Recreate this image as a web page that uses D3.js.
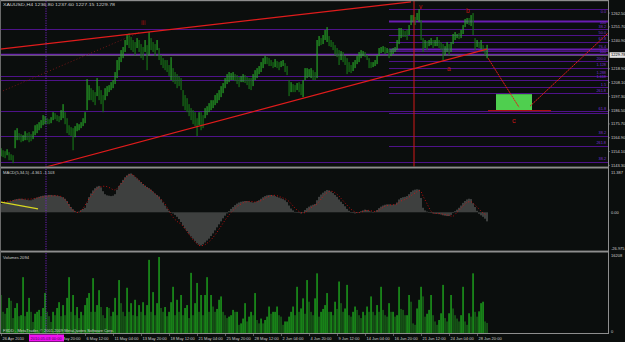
<!DOCTYPE html>
<html>
<head>
<meta charset="utf-8">
<script src="https://cdn.jsdelivr.net/npm/d3@7"></script>
<style>
  body { margin: 0; background: #0b0e0d; }
  svg { display: block; font-family: "Liberation Sans", Arial, sans-serif; }
</style>
</head>
<body>
<div id="chart"></div>
<script>
// H4 bars (one entry per bar)
var highs = [1156.7,1155.1,1154.4,1155.9,1153.6,1152.0,1151.2,1170.8,1172.4,1168.5,
 1167.7,1166.9,1170.0,1168.5,1169.3,1167.7,1170.0,1174.7,1175.5,1177.1,
 1178.7,1182.6,1181.8,1180.2,1179.4,1181.0,1184.9,1184.1,1182.6,1181.8,
 1186.5,1191.2,1184.9,1180.2,1174.7,1173.2,1172.4,1174.0,1176.3,1175.5,
 1177.1,1180.2,1184.9,1210.8,1206.1,1203.7,1202.2,1200.6,1211.6,1205.3,
 1202.2,1198.3,1203.7,1205.3,1206.1,1208.4,1210.0,1216.3,1225.7,1228.0,
 1233.5,1235.9,1241.4,1245.3,1246.8,1243.7,1241.4,1239.8,1242.9,1241.4,
 1238.2,1235.9,1241.4,1237.4,1247.6,1242.9,1239.8,1238.2,1241.4,1235.1,
 1229.6,1227.2,1225.7,1225.7,1221.8,1228.0,1219.4,1216.3,1214.7,1213.1,
 1211.6,1202.2,1198.3,1195.9,1191.2,1188.1,1186.5,1184.9,1180.2,1184.9,
 1184.9,1182.6,1188.1,1189.6,1192.0,1194.3,1194.3,1198.3,1199.8,1202.2,
 1205.3,1207.7,1211.6,1214.7,1216.3,1215.5,1216.3,1214.7,1213.9,1212.4,
 1213.1,1214.7,1213.9,1212.4,1211.6,1211.6,1214.7,1217.8,1219.4,1221.0,
 1224.1,1227.2,1228.8,1228.0,1227.2,1225.7,1224.1,1226.5,1224.9,1224.1,
 1224.9,1225.7,1223.3,1221.0,1210.0,1208.4,1206.9,1206.1,1207.7,1208.4,
 1206.9,1210.0,1219.4,1219.4,1218.6,1219.4,1217.8,1216.3,1241.4,1244.5,
 1242.9,1245.3,1249.2,1251.5,1244.5,1241.4,1239.8,1237.4,1235.1,1233.5,
 1232.7,1232.0,1228.8,1227.2,1224.1,1221.8,1224.1,1225.7,1228.8,1232.0,
 1233.5,1232.7,1232.0,1229.6,1227.2,1224.1,1224.1,1225.7,1229.6,1235.1,
 1235.9,1236.6,1235.9,1235.1,1234.3,1234.3,1235.1,1235.9,1241.4,1250.8,
 1250.8,1249.2,1248.4,1249.2,1253.1,1260.9,1260.9,1259.4,1262.5,1265.6,
 1257.0,1242.9,1241.4,1240.6,1241.4,1242.9,1241.4,1241.4,1243.7,1241.4,
 1239.8,1238.2,1236.6,1239.8,1238.2,1239.8,1246.1,1247.6,1246.1,1246.8,
 1249.2,1253.1,1257.8,1258.6,1258.6,1260.9,1262.5,1242.9,1241.4,1239.8,
 1241.4,1237.4,1235.1,1237.6];

var lows = [1150.4,1149.7,1148.9,1151.2,1147.3,1147.3,1145.0,1156.7,1163.0,1163.0,
 1161.4,1162.2,1163.0,1163.0,1161.4,1162.2,1163.8,1166.9,1168.5,1170.8,
 1172.4,1174.7,1175.5,1175.5,1175.5,1176.3,1178.7,1179.4,1177.9,1177.1,
 1178.7,1180.2,1175.5,1168.5,1166.9,1166.1,1155.1,1165.3,1170.0,1170.8,
 1172.4,1174.0,1176.3,1186.5,1194.3,1194.3,1192.8,1190.4,1197.5,1194.3,
 1191.2,1184.9,1194.3,1197.5,1200.6,1202.2,1203.7,1206.9,1211.6,1217.8,
 1224.1,1227.2,1232.0,1237.4,1235.1,1233.5,1232.0,1229.6,1235.1,1232.0,
 1227.2,1225.7,1232.0,1217.8,1229.6,1233.5,1232.0,1228.8,1233.5,1225.7,
 1221.8,1219.4,1217.8,1216.3,1213.1,1210.0,1208.4,1206.9,1203.7,1205.3,
 1202.2,1189.6,1186.5,1184.9,1181.8,1178.7,1175.5,1174.0,1166.1,1174.7,
 1170.8,1172.4,1180.2,1182.6,1184.9,1186.5,1188.1,1190.4,1192.0,1194.3,
 1196.7,1199.8,1203.7,1206.9,1208.4,1210.0,1210.0,1209.2,1206.9,1204.5,
 1208.4,1208.4,1207.7,1206.1,1203.0,1202.2,1205.3,1210.0,1211.6,1214.7,
 1216.3,1219.4,1222.5,1222.5,1221.0,1221.0,1219.4,1220.2,1219.4,1217.8,
 1220.2,1221.0,1216.3,1213.9,1197.5,1200.6,1200.6,1200.6,1202.2,1200.6,
 1198.3,1196.7,1210.0,1211.6,1212.4,1211.6,1210.0,1210.0,1211.6,1236.6,
 1237.4,1238.2,1241.4,1239.8,1236.6,1235.9,1233.5,1229.6,1228.0,1221.8,
 1225.7,1224.1,1221.8,1214.7,1216.3,1215.5,1217.1,1219.4,1222.5,1224.1,
 1227.2,1228.8,1228.0,1225.7,1219.4,1219.4,1220.2,1221.0,1222.5,1228.8,
 1231.2,1232.0,1230.4,1231.2,1227.2,1228.8,1230.4,1232.0,1233.5,1238.2,
 1242.9,1243.7,1243.7,1241.4,1245.3,1253.1,1255.5,1253.1,1257.0,1255.5,
 1241.4,1232.0,1235.1,1233.5,1236.6,1237.4,1235.1,1236.6,1236.6,1235.1,
 1233.5,1225.7,1229.6,1232.0,1229.6,1232.0,1238.2,1241.4,1242.9,1242.1,
 1242.9,1246.1,1251.5,1253.9,1253.1,1252.3,1245.3,1233.5,1235.9,1235.1,
 1234.3,1232.0,1229.6,1227.15];

var volumes = [7900,4400,4000,5200,7300,6700,3100,5200,6200,3500,
 3700,11600,3500,4400,7300,4400,2300,4000,4400,4800,
 3500,5200,8300,4400,3500,2300,4400,3700,5200,6400,
 3500,5800,3700,7300,11600,4400,7900,3700,5400,3100,
 4400,3700,5800,7300,8300,4400,11400,4400,5800,8900,
 5400,3700,3100,5400,5200,3500,4400,7300,3700,11000,
 6200,4400,3500,9400,4400,6200,3700,6900,3500,5800,
 4400,6400,3700,5800,15200,4400,8500,3700,6200,15800,
 5200,4400,5400,3500,4400,6400,9600,3700,6900,4400,
 7900,3700,5200,5800,3100,12500,3700,6200,10400,4400,
 7900,3700,7900,11600,4400,7900,5500,4400,5000,6900,
 7600,4400,3700,3100,3400,3700,4800,4400,4400,1700,
 2000,3000,6200,2400,3400,4400,3700,8300,2700,2000,
 3000,2000,2700,3400,5500,4000,4400,4400,5500,3700,
 3400,1700,2400,2400,3400,4400,5500,3700,9600,4400,
 5100,7200,4000,11000,6500,4400,3700,7200,12400,3400,
 4400,5000,5800,8300,4400,4400,3700,6500,5000,10700,
 6200,4400,5100,10000,3700,3400,4400,5500,4800,3700,
 3100,4400,3700,5500,4400,7600,4400,3700,5800,4400,
 9600,4800,3700,3400,6200,4400,4400,3400,3700,9600,
 5000,4800,3700,3700,7900,6500,2000,1700,5100,6900,
 9600,7600,3400,4000,4800,7900,3700,2400,1700,2700,
 4100,10000,3100,2400,4100,7900,5100,3700,3000,2400,
 3700,9600,2400,1700,4100,3400,12400,4400,3400,4500,
 6200,6500,2400,2094];

var macdMain = [2.2,2.4,2.5,2.7,2.9,3.0,3.2,3.4,3.5,3.6,
 3.6,3.5,3.4,3.3,3.2,3.2,3.4,3.7,3.9,4.1,
 4.3,4.4,4.5,4.5,4.6,4.6,4.5,4.5,4.4,4.3,
 4.1,4.0,3.6,3.0,2.2,1.4,0.8,0.3,0.1,0.2,
 0.6,0.9,1.2,2.5,4.0,5.0,5.8,6.4,6.8,7.0,
 6.6,5.6,4.8,4.5,4.4,4.3,4.4,4.8,6.0,7.0,
 7.8,8.6,9.3,9.8,10.2,10.3,9.9,9.4,9.0,8.5,
 8.0,7.5,7.1,6.7,6.4,6.0,5.5,5.0,4.6,4.2,
 3.4,2.6,1.8,1.0,0.4,0.0,-0.3,-0.7,-1.2,-1.8,
 -2.6,-3.5,-4.3,-5.0,-5.7,-6.4,-7.0,-7.6,-8.2,-8.6,
 -8.8,-8.5,-8.0,-7.5,-7.0,-6.3,-5.6,-4.8,-4.0,-3.2,
 -2.4,-1.6,-0.9,-0.3,0.3,0.9,1.4,1.9,2.3,2.6,
 2.8,2.9,3.0,3.0,2.9,2.7,2.6,2.7,2.9,3.2,
 3.6,4.0,4.3,4.5,4.6,4.6,4.5,4.3,4.1,3.9,
 3.7,3.5,3.2,2.7,1.8,1.0,0.5,0.1,-0.1,-0.2,
 -0.3,0.0,0.6,1.1,1.5,1.8,2.0,2.2,3.2,4.1,
 4.7,5.2,5.6,5.9,5.8,5.5,5.1,4.6,4.1,3.4,
 2.8,2.2,1.6,0.9,0.4,0.0,-0.2,-0.3,-0.2,0.0,
 0.3,0.5,0.7,0.6,0.4,0.2,0.1,0.2,0.6,1.1,
 1.5,1.8,2.0,2.1,2.1,2.0,2.0,2.1,2.6,3.4,
 3.8,4.0,4.1,4.3,4.8,5.4,5.8,6.0,6.1,6.0,
 3.8,1.2,0.5,0.2,0.0,-0.2,-0.3,-0.4,-0.4,-0.5,
 -0.6,-0.8,-0.9,-1.0,-1.0,-0.7,-0.2,0.3,0.7,1.2,
 1.8,2.5,3.0,3.4,3.6,3.5,2.4,1.4,0.4,-0.4,
 -0.8,-1.2,-1.7,-2.4];

var macdSignal = [2.6,2.7,2.8,2.9,3.0,3.0,3.1,3.2,3.3,3.4,
 3.5,3.5,3.5,3.5,3.5,3.5,3.6,3.7,3.8,3.9,
 4.0,4.1,4.1,4.2,4.3,4.3,4.4,4.4,4.4,4.3,
 4.2,3.9,3.4,2.8,1.8,0.9,0.5,0.2,0.0,-0.1,
 0.3,1.0,1.8,2.7,3.6,4.3,5.0,5.7,6.3,6.6,
 6.8,6.9,6.9,6.8,6.6,6.3,6.0,5.9,6.3,6.9,
 7.4,8.1,8.9,9.6,9.9,10.0,9.9,9.5,9.0,8.5,
 8.0,7.5,7.0,6.5,6.1,5.8,5.4,4.9,4.4,3.9,
 3.5,2.9,2.2,1.3,0.4,-0.5,-1.3,-1.9,-2.4,-2.8,
 -3.1,-3.7,-4.4,-5.1,-5.8,-6.6,-7.3,-7.9,-8.4,-8.8,
 -8.9,-8.8,-8.6,-8.2,-7.8,-7.3,-6.7,-6.0,-5.3,-4.5,
 -3.7,-2.9,-2.1,-1.4,-0.7,-0.1,0.5,1.0,1.5,1.9,
 2.2,2.5,2.7,2.8,2.9,2.9,2.8,2.7,2.8,2.9,
 3.1,3.4,3.7,4.0,4.2,4.4,4.5,4.5,4.4,4.2,
 4.0,3.8,3.6,3.3,2.9,2.3,1.7,1.1,0.6,0.2,
 -0.1,-0.2,-0.1,0.3,0.8,1.2,1.6,1.9,2.2,2.8,
 3.5,4.2,4.8,5.2,5.5,5.6,5.5,5.2,4.8,4.3,
 3.7,3.1,2.5,1.9,1.3,0.8,0.4,0.1,-0.1,-0.1,
 0.0,0.2,0.4,0.5,0.5,0.4,0.3,0.2,0.3,0.5,
 0.9,1.3,1.6,1.8,1.9,2.0,2.0,2.0,2.2,2.6,
 3.0,3.2,3.4,3.7,4.0,4.4,4.8,5.1,5.5,5.8,
 5.6,4.3,3.3,2.3,1.2,0.3,-0.2,-0.3,-0.3,-0.3,
 -0.4,-0.5,-0.6,-0.7,-0.8,-1.0,-1.1,-0.6,0.0,0.5,
 1.1,1.6,2.2,2.7,2.8,2.8,2.5,1.9,1.4,0.9,
 0.3,-0.2,-0.5,-0.8];

// time axis (the 29 Apr tick label sits under the crosshair date box)
var timeLabels = ["26 Apr 2010","","3 May 20:00","6 May 12:00","11 May 04:00",
  "13 May 20:00","18 May 12:00","21 May 04:00","25 May 20:00","28 May 12:00","2 Jun 04:00",
  "4 Jun 20:00","9 Jun 12:00","14 Jun 04:00","16 Jun 20:00","21 Jun 12:00","24 Jun 04:00","28 Jun 20:00"];
var timeTickBars = [0,14,28,42,56,70,84,98,112,126,140,154,168,182,196,210,224,238];
var crosshairBar = 22.5;
var crosshairLabel = "2010.05.03 00:00";

// price axis
var priceTicks = [1262.50,1251.70,1240.90,1218.90,1208.10,1197.30,1186.50,1175.70,1164.90,1154.10,1143.30];
var bidPrice = 1229.78;

// fibonacci levels (full width / right part only)
var fibFull = [1250.0,1230.1,1213.1,1209.8,1185.7,1166.1,1146.3];
var fibRight = [1265.4,1256.5,1245.3,1240.0,1234.1,1232.7,1224.9,1219.2,1204.7,1199.6,1184.1,1158.3];
var fibRightStart = 194;
var fibTexts = ["0.0","100","38.2","50.0","61.8","76.4","100","200.0","1.128","1.288","1.618","1.5","261.8","61.8","38.2","261.8","38.2"];
var fibTextPrices = [1262.9,1253.6,1250.6,1246.3,1241.4,1235.5,1231.6,1226.1,1221.0,1215.1,1211.6,1205.3,1200.6,1186.9,1167.7,1159.8,1147.3];

// drawn objects: [bar, price] end points
var channelTop = [[-0.5,1234.3],[205,1271.2]];
var channelBottom = [[22,1141.8],[243,1234.3]];
var oldTrend = [[-0.5,1200.6],[69.5,1247.6]];
var projDown = [[243.5,1227.2],[259,1188.8]];
var projUp = [[264.5,1189.6],[303.5,1246.8]];
var targetLine = [[243.5,1186.1],[275,1186.1]];
var targetBox = [[247.5,1199.0],[265.5,1186.5]];
var waveBar = 206.5;
var waveLabels = ["iii","v","b","a","c"];
var waveLabelPos = [[70,1253.5],[209,1266.0],[232.5,1262.5],[223,1217.0],[255.5,1176.3]];
var macdTrend = [[0,2.7],[18.5,0.9]];

var title = "XAUUSD,H4  1236.80 1237.60 1227.15 1229.78";
var macdTitle = "MACD(5,34,5) -4.361 -1.103";
var volTitle = "Volumes 2094";
var macdAxisTexts = ["11.387","0.00","-26.975"];
var volAxisTexts = ["16208","0"];

var W = 625, H = 342, AX = 608;

var svg = d3.select("#chart").append("svg").attr("width", W).attr("height", H);
svg.append("rect").attr("width", W).attr("height", H).attr("fill", "#0b0e0d");

var x = d3.scaleLinear().domain([0, 243]).range([1, 487]);
var yPrice = d3.scaleLinear().domain([1142.0, 1272.7]).range([167, 0]);
var yMacd = d3.scaleLinear().domain([-9.5, 10.9]).range([248.1, 171.2]);
var yVol = d3.scaleLinear().domain([0, 16208]).range([333, 255]);

var defs = svg.append("defs");
function clip(id, x0, y0, w, h) {
  defs.append("clipPath").attr("id", id).append("rect")
    .attr("x", x0).attr("y", y0).attr("width", w).attr("height", h);
}
clip("cMain", 0, 1, AX, 165.5);
clip("cMacd", 0, 168.5, AX, 82);
clip("cVol", 0, 252.5, AX, 80.5);

var line = d3.line().x(function (d) { return x(d[0]); }).y(function (d) { return yPrice(d[1]); });

// ---- main window
var gMain = svg.append("g").attr("clip-path", "url(#cMain)");

gMain.selectAll(".fibF").data(fibFull).enter().append("line")
  .attr("x1", 0).attr("x2", AX)
  .attr("y1", function (d) { return Math.round(yPrice(d)) + 0.5; })
  .attr("y2", function (d) { return Math.round(yPrice(d)) + 0.5; })
  .attr("stroke", function (d, i) { return i == 1 ? "#6a1cb2" : "#4e1288"; })
  .attr("stroke-width", function (d, i) { return i == 1 ? 1.6 : 1; });

gMain.selectAll(".fibR").data(fibRight).enter().append("line")
  .attr("x1", x(fibRightStart)).attr("x2", AX)
  .attr("y1", function (d) { return Math.round(yPrice(d)) + 0.5; })
  .attr("y2", function (d) { return Math.round(yPrice(d)) + 0.5; })
  .attr("stroke", function (d, i) { return (i == 1 || i == 4) ? "#6a1cb2" : "#4e1288"; })
  .attr("stroke-width", function (d, i) { return (i == 1 || i == 4) ? 1.8 : 1; });

gMain.selectAll(".fibT").data(fibTexts).enter().append("text")
  .attr("x", AX - 2).attr("y", function (d, i) { return yPrice(fibTextPrices[i]); })
  .attr("text-anchor", "end").attr("font-size", 3.8).attr("fill", "#7b2fd6")
  .text(function (d) { return d; });

// bid line
gMain.append("line").attr("x1", 0).attr("x2", AX)
  .attr("y1", yPrice(bidPrice) + 0.5).attr("y2", yPrice(bidPrice) + 0.5)
  .attr("stroke", "#7c7c80").attr("stroke-width", 0.8);

// old dotted trend
gMain.append("path").attr("d", line(oldTrend)).attr("fill", "none")
  .attr("stroke", "#801818").attr("stroke-width", 0.9).attr("stroke-dasharray", "1,2.2");

// price bars
gMain.selectAll(".bar").data(highs).enter().append("rect")
  .attr("x", function (d, i) { return x(i) - 0.5; })
  .attr("width", 1.15)
  .attr("y", function (d) { return yPrice(d); })
  .attr("height", function (d, i) { return Math.max(1, yPrice(lows[i]) - yPrice(d)); })
  .attr("fill", function (d, i) {
    if (i == 0) return "#1f9a1f";
    return (d + lows[i]) >= (highs[i - 1] + lows[i - 1]) ? "#27a827" : "#177417";
  });

// channel and projections
gMain.append("path").attr("d", line(channelTop)).attr("fill", "none").attr("stroke", "#e01c1c").attr("stroke-width", 1.2);
gMain.append("path").attr("d", line(channelBottom)).attr("fill", "none").attr("stroke", "#e01c1c").attr("stroke-width", 1.2);

gMain.append("line").attr("x1", x(waveBar)).attr("x2", x(waveBar)).attr("y1", 0).attr("y2", 167)
  .attr("stroke", "#d01818").attr("stroke-width", 1);

gMain.append("rect")
  .attr("x", x(targetBox[0][0])).attr("y", yPrice(targetBox[0][1]))
  .attr("width", x(targetBox[1][0]) - x(targetBox[0][0]))
  .attr("height", yPrice(targetBox[1][1]) - yPrice(targetBox[0][1]))
  .attr("fill", "#4fcf4f");

gMain.append("path").attr("d", line(targetLine)).attr("fill", "none").attr("stroke", "#a81010").attr("stroke-width", 1.4);
gMain.append("path").attr("d", line(projDown)).attr("fill", "none").attr("stroke", "#e01c1c").attr("stroke-width", 1).attr("stroke-dasharray", "2,0.6");
gMain.append("path").attr("d", line(projUp)).attr("fill", "none").attr("stroke", "#e01c1c").attr("stroke-width", 1).attr("stroke-dasharray", "2,0.6");

gMain.selectAll(".wave").data(waveLabels).enter().append("text")
  .attr("x", function (d, i) { return x(waveLabelPos[i][0]); })
  .attr("y", function (d, i) { return yPrice(waveLabelPos[i][1]); })
  .attr("font-size", function (d) { return d == "c" ? 7.5 : 6.5; })
  .attr("fill", function (d) { return d == "iii" ? "#a01010" : "#c81414"; })
  .text(function (d) { return d; });

// ---- MACD window
var gMacd = svg.append("g").attr("clip-path", "url(#cMacd)");
gMacd.selectAll(".hist").data(macdMain).enter().append("rect")
  .attr("x", function (d, i) { return x(i) - 0.4; })
  .attr("width", 0.8)
  .attr("y", function (d) { return Math.min(yMacd(d), yMacd(0)); })
  .attr("height", function (d) { return Math.max(0.6, Math.abs(yMacd(d) - yMacd(0))); })
  .attr("fill", "#8c8c8c");

gMacd.append("path")
  .attr("d", d3.line().x(function (d, i) { return x(i); }).y(function (d) { return yMacd(d); })(macdSignal))
  .attr("fill", "none").attr("stroke", "#e01010").attr("stroke-width", 0.9).attr("stroke-dasharray", "0.9,2.1");

gMacd.append("path")
  .attr("d", d3.line().x(function (d) { return x(d[0]); }).y(function (d) { return yMacd(d[1]); })(macdTrend))
  .attr("fill", "none").attr("stroke", "#d8d820").attr("stroke-width", 1.1);

// ---- volume window
var gVol = svg.append("g").attr("clip-path", "url(#cVol)");
gVol.selectAll(".vol").data(volumes).enter().append("rect")
  .attr("x", function (d, i) { return x(i) - 0.6; })
  .attr("width", 1.3)
  .attr("y", function (d) { return yVol(d); })
  .attr("height", function (d) { return yVol(0) - yVol(d); })
  .attr("fill", function (d, i) { return (i > 0 && d >= volumes[i - 1]) ? "#1fb41f" : "#1a6e1a"; });

// crosshair
svg.append("line").attr("x1", x(crosshairBar)).attr("x2", x(crosshairBar)).attr("y1", 1).attr("y2", 334)
  .attr("stroke", "#7a22d0").attr("stroke-width", 0.9).attr("stroke-dasharray", "1.2,1.2");

// ---- frames / separators
var grey = "#8e8e8e";
svg.append("rect").attr("x", 0).attr("y", 0).attr("width", AX).attr("height", 1.2).attr("fill", grey);
svg.append("rect").attr("x", 0).attr("y", 166.6).attr("width", AX).attr("height", 1.9).attr("fill", grey);
svg.append("rect").attr("x", 0).attr("y", 250.6).attr("width", AX).attr("height", 1.9).attr("fill", grey);
svg.append("rect").attr("x", 0).attr("y", 0).attr("width", 1).attr("height", 334).attr("fill", "#6a6a6a");
svg.append("line").attr("x1", 0).attr("x2", AX + 0.5).attr("y1", 333.5).attr("y2", 333.5).attr("stroke", grey).attr("stroke-width", 1);
svg.append("line").attr("x1", AX + 0.5).attr("x2", AX + 0.5).attr("y1", 0).attr("y2", 334).attr("stroke", grey).attr("stroke-width", 1);

var txt = "#cfcfcf";
// price axis
svg.selectAll(".pt").data(priceTicks).enter().append("text")
  .attr("x", AX + 3).attr("y", function (d) { return yPrice(d) + 1.5; })
  .attr("font-size", 4).attr("fill", txt)
  .text(function (d) { return d.toFixed(2); });
svg.selectAll(".ptk").data(priceTicks).enter().append("line")
  .attr("x1", AX).attr("x2", AX + 2)
  .attr("y1", function (d) { return yPrice(d); }).attr("y2", function (d) { return yPrice(d); })
  .attr("stroke", grey).attr("stroke-width", 0.6);
svg.append("rect").attr("x", AX + 1.5).attr("y", yPrice(bidPrice) - 2.6).attr("width", 16).attr("height", 5.6).attr("fill", "#e4e4e4");
svg.append("text").attr("x", AX + 3).attr("y", yPrice(bidPrice) + 1.5).attr("font-size", 4).attr("fill", "#000")
  .text(bidPrice.toFixed(2));

// macd axis texts
svg.append("text").attr("x", AX + 3).attr("y", 173.5).attr("font-size", 4).attr("fill", txt).text(macdAxisTexts[0]);
svg.append("text").attr("x", AX + 3).attr("y", yMacd(0) + 1.5).attr("font-size", 4).attr("fill", txt).text(macdAxisTexts[1]);
svg.append("text").attr("x", AX + 3).attr("y", 249.5).attr("font-size", 4).attr("fill", txt).text(macdAxisTexts[2]);
// volume axis texts
svg.append("text").attr("x", AX + 3).attr("y", yVol(16208) + 2).attr("font-size", 4).attr("fill", txt).text(volAxisTexts[0]);
svg.append("text").attr("x", AX + 3).attr("y", yVol(0)).attr("font-size", 4).attr("fill", txt).text(volAxisTexts[1]);

// time axis
var boxX = x(crosshairBar) - 17, boxW = 35;
clip("cTime", boxX + boxW, 334, AX - boxX - boxW + 20, 8);
svg.selectAll(".tt").data(timeTickBars).enter().append("line")
  .attr("x1", function (d) { return x(d) + 0.5; }).attr("x2", function (d) { return x(d) + 0.5; })
  .attr("y1", 334).attr("y2", 336).attr("stroke", grey).attr("stroke-width", 0.6);
svg.append("text").attr("x", x(timeTickBars[0]) + 1.5).attr("y", 340.3)
  .attr("font-size", 4).attr("fill", txt).text(timeLabels[0]);
svg.append("g").attr("clip-path", "url(#cTime)")
  .selectAll(".tl").data(timeLabels.slice(2)).enter().append("text")
  .attr("x", function (d, i) { return x(timeTickBars[i + 2]) + 1.5; }).attr("y", 340.3)
  .attr("font-size", 4).attr("fill", txt)
  .text(function (d) { return d; });
svg.append("rect").attr("x", boxX).attr("y", 334.5).attr("width", boxW).attr("height", 7)
  .attr("fill", "#f010f0");
svg.append("text").attr("x", boxX + 1.5).attr("y", 340.3).attr("font-size", 4).attr("fill", "#3a0a5a")
  .text(crosshairLabel);

// window captions
svg.append("text").attr("x", 3).attr("y", 6).attr("font-size", 4.4).attr("fill", txt)
  .attr("textLength", 112).attr("lengthAdjust", "spacingAndGlyphs").text(title);
svg.append("text").attr("x", 3).attr("y", 174.3).attr("font-size", 4.1).attr("fill", txt).text(macdTitle);
svg.append("text").attr("x", 3).attr("y", 258.5).attr("font-size", 4.1).attr("fill", txt).text(volTitle);
svg.append("text").attr("x", 3).attr("y", 331.5).attr("font-size", 4).attr("fill", "#c8d0c8")
  .text("FXDD - MetaTrader, \u00a9 2001-2009 MetaQuotes Software Corp.");
</script>
</body>
</html>
